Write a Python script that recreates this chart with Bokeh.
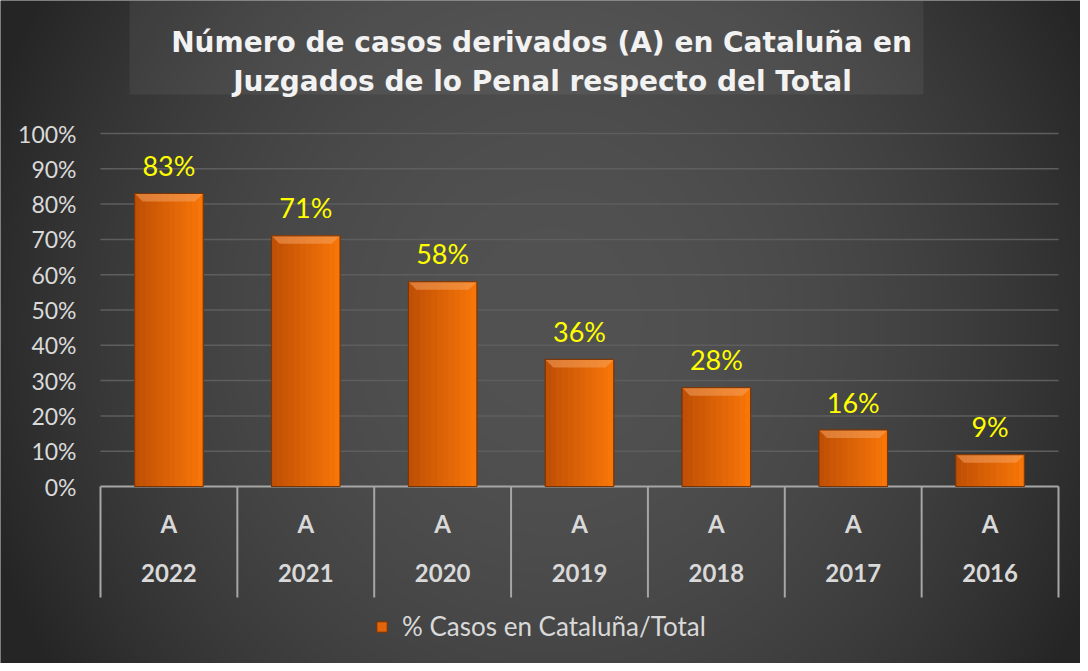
import numpy as np
from bokeh.plotting import figure
from bokeh.models import Range1d, Legend, LegendItem
from bokeh.core.properties import value
from bokeh.embed import file_html
from bokeh.resources import INLINE

# ---------------- data ----------------
years = ["2022", "2021", "2020", "2019", "2018", "2017", "2016"]
groups = ["A", "A", "A", "A", "A", "A", "A"]
pct = [0.83, 0.71, 0.58, 0.36, 0.28, 0.16, 0.09]
pct_labels = ["83%", "71%", "58%", "36%", "28%", "16%", "9%"]
y_ticks = [0.0, 0.1, 0.2, 0.3, 0.4, 0.5, 0.6, 0.7, 0.8, 0.9, 1.0]
y_tick_labels = ["0%", "10%", "20%", "30%", "40%", "50%", "60%", "70%", "80%", "90%", "100%"]
title_lines = ["Número de casos derivados (A) en Cataluña en",
               "Juzgados de lo Penal respecto del Total"]
series_name = "% Casos en Cataluña/Total"

# ---------------- layout (pixels in figure) ----------------
W, H = 1080, 663
PL, PR = 100, 1058      # left / right boundary of the category area
PT, PB = 133, 486       # pixel of 100% and of 0%
n = len(years)
sx = (PR - PL) / n
sy = (PB - PT) / 1.0
x0 = -PL / sx
x1 = n + (W - PR) / sx
y1 = 1 + PT / sy
y0 = -(H - PB) / sy


def X(px):
    return x0 + px / sx


def Y(py):
    return y1 - py / sy


p = figure(width=W, height=H, x_range=Range1d(x0, x1), y_range=Range1d(y0, y1),
           output_backend="svg", toolbar_location=None, min_border=0,
           x_axis_location=None, y_axis_location=None,
           outline_line_color=None, background_fill_color="#3a3a3a",
           border_fill_color="#3a3a3a")
p.grid.visible = False

# ---------------- background radial gradient ----------------
nx, ny = 540, 332
gx = (np.arange(nx) + 0.5) * W / nx
gy = H - (np.arange(ny) + 0.5) * H / ny
GX, GY = np.meshgrid(gx, gy)
r2 = ((GX - 552) / 600.0) ** 2 + ((GY - 322) / 640.0) ** 2
g = (82 - 45 * np.clip(r2, 0, 1)).astype(np.uint8)
img = np.empty((ny, nx), dtype=np.uint32)
view = img.view(dtype=np.uint8).reshape((ny, nx, 4))
view[..., 0] = g
view[..., 1] = g
view[..., 2] = g
view[..., 3] = 255
p.image_rgba(image=[img], x=x0, y=y0, dw=x1 - x0, dh=y1 - y0)

# title box
p.quad(left=[X(129)], right=[X(923)], top=[Y(0)], bottom=[Y(94)],
       fill_color="white", fill_alpha=0.06, line_color=None)

# ---------------- grid & category frame ----------------
grid_vals = y_ticks[1:]
p.segment(x0=[0] * len(grid_vals), x1=[n] * len(grid_vals), y0=grid_vals, y1=grid_vals,
          line_color="#5e5e5e", line_width=1.5)
p.segment(x0=[0], x1=[n], y0=[0], y1=[0], line_color="#a6a6a6", line_width=2)
bounds = list(range(n + 1))
p.segment(x0=bounds, x1=bounds, y0=[0] * len(bounds), y1=[Y(597)] * len(bounds),
          line_color="#a6a6a6", line_width=2)

# ---------------- bars ----------------
xs = [i + 0.5 for i in range(n)]
bw = 0.5
base = p.vbar(x=xs, width=bw, top=pct, bottom=0, fill_color="#e0650c",
              line_color="#7a3404", line_width=1)
nstrip = 12
c_l = np.array([192, 80, 6])
c_r = np.array([248, 118, 8])
for k in range(nstrip):
    t = k / (nstrip - 1)
    c = (c_l * (1 - t) + c_r * t).astype(int)
    col = "#%02x%02x%02x" % tuple(c)
    off = -bw / 2 + (k + 0.5) * bw / nstrip
    p.vbar(x=[v + off for v in xs], width=bw / nstrip * 1.02, top=pct, bottom=0,
           fill_color=col, line_color=None)
# top bevel
bev_h = 8 / sy
bev_d = 8 / sx
bev_xs = [[v - bw / 2, v + bw / 2, v + bw / 2 - bev_d, v - bw / 2 + bev_d] for v in xs]
bev_ys = [[t, t, t - bev_h, t - bev_h] for t in pct]
p.patches(xs=bev_xs, ys=bev_ys, fill_color="#f8a868", fill_alpha=0.5, line_color=None)
p.vbar(x=xs, width=bw, top=pct, bottom=0, fill_color=None,
       line_color="#7a3404", line_width=1)

# value labels
p.text(x=xs, y=pct, text=pct_labels, text_align="center", text_baseline="middle",
       y_offset=-28, text_font=value("Lato"), text_font_size="27px", text_color="#ffff00")

# y tick labels
p.text(x=[X(76)] * len(y_ticks), y=y_ticks, text=y_tick_labels, text_align="right",
       text_baseline="middle", text_font=value("Lato"), text_font_size="23px",
       text_color="#d9d9d9")

# category labels (two levels)
p.text(x=xs, y=[Y(523)] * n, text=groups, text_align="center", text_baseline="middle",
       text_font=value("Lato"), text_font_style="bold", text_font_size="24px",
       text_color="#d9d9d9")
p.text(x=xs, y=[Y(572)] * n, text=years, text_align="center", text_baseline="middle",
       text_font=value("Lato"), text_font_style="bold", text_font_size="24px",
       text_color="#d9d9d9")

# title
p.text(x=[X(541), X(542)], y=[Y(42), Y(81)], text=title_lines, text_align="center",
       text_baseline="middle", text_font=value("DejaVu Sans"), text_font_style="bold",
       text_font_size="28px", text_color="#f2f2f2")

# legend
legend = Legend(items=[LegendItem(label=series_name, renderers=[base])],
                location=(375, 21), orientation="horizontal",
                glyph_width=13, glyph_height=13, label_standoff=14,
                label_text_font="Lato", label_text_font_size="26px",
                label_text_color="#d9d9d9", background_fill_alpha=0,
                border_line_alpha=0, padding=0, margin=0)
p.add_layout(legend)

open("out.html", "w").write(file_html(p, INLINE))
